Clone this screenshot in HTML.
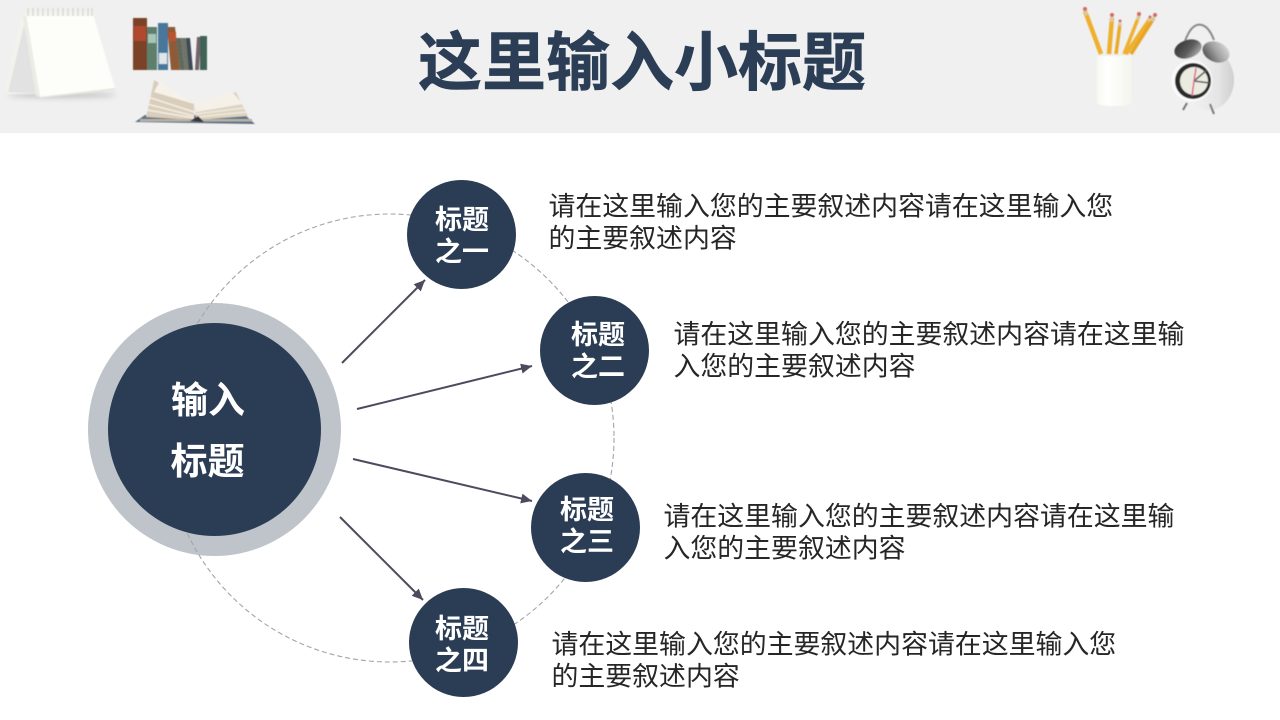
<!DOCTYPE html>
<html lang="zh-CN"><head><meta charset="utf-8"><title>这里输入小标题</title>
<style>
html,body{margin:0;padding:0;background:#fff;width:1280px;height:720px;overflow:hidden}
svg{display:block}
text{font-family:"Liberation Sans","Noto Sans CJK SC",sans-serif}
.t{font-size:26.9px;fill:#262626}
.n{font-size:27px;font-weight:700;fill:#fff;text-anchor:middle}
.c{font-size:37px;font-weight:700;fill:#fff;text-anchor:middle}
.a{stroke:#4d4a5e;stroke-width:2;fill:none}
</style></head><body>
<svg width="1280" height="720" viewBox="0 0 1280 720" xmlns="http://www.w3.org/2000/svg">
<defs>
<filter id="b" x="-10%" y="-10%" width="120%" height="120%"><feGaussianBlur stdDeviation="0.55"/></filter>
<filter id="s" x="-30%" y="-200%" width="160%" height="500%"><feGaussianBlur stdDeviation="3"/></filter>
<linearGradient id="cup" x1="0" x2="1" y1="0" y2="0"><stop offset="0" stop-color="#f8f8f1"/><stop offset=".3" stop-color="#ffffff"/><stop offset="1" stop-color="#f4f4ed"/></linearGradient>
<linearGradient id="bell1" x1="0" x2="1" y1="0" y2="1"><stop offset="0" stop-color="#2e2e2e"/><stop offset=".55" stop-color="#5c5c5c"/><stop offset="1" stop-color="#c8c8c8"/></linearGradient>
<linearGradient id="bell2" x1="0" x2="1" y1="1" y2="0"><stop offset="0" stop-color="#3a3a3a"/><stop offset=".5" stop-color="#a0a0a0"/><stop offset="1" stop-color="#e8e8e8"/></linearGradient>
<linearGradient id="body" x1="0" x2="1" y1="0" y2="0"><stop offset="0" stop-color="#f5f5f5"/><stop offset=".7" stop-color="#e4e4e4"/><stop offset="1" stop-color="#cfcfcf"/></linearGradient>
<marker id="m" markerUnits="userSpaceOnUse" markerWidth="12" markerHeight="10" refX="11" refY="5" orient="auto"><path d="M0 0L11 5L0 10z" fill="#4d4a5e"/></marker>
</defs>
<rect width="1280" height="133" fill="#f0f0f0"/>

<!-- notepad -->
<ellipse cx="62" cy="95" rx="54" ry="2.500" fill="#bdbdbd" filter="url(#s)"/>
<g filter="url(#b)">
<path d="M22 15L5 91L9 94H40L26 20z" fill="#f3f3ed"/>
<path d="M24 25L8 92L38 94z" fill="#e2e2e2"/>
<path d="M26 14H93L115 88L40 97z" fill="#fdfdf9"/>
<path d="M26 14L40 97L36 96L23 17z" fill="#ecece5"/>
<path d="M40 97L115 88V90L41 98z" fill="#e6e6dd"/>
<rect x="25" y="12" width="69" height="4" fill="#f5f5f0"/>
<path d="M28 8V16M33 8V16M38 8V16M43 8V16M48 8V16M53 8V16M58 8V16M63 8V16M68 8V16M73 8V16M78 8V16M83 8V16M88 8V16M92 8V16" stroke="#dadad5" stroke-width="1.600"/>
</g>

<!-- books upright -->
<g filter="url(#b)">
<rect x="133" y="18" width="14" height="52" fill="#7a4328"/><rect x="134" y="26" width="12" height="15" fill="#b0482f"/>
<rect x="147" y="27" width="10" height="43" fill="#5f7f6d"/><rect x="148" y="34" width="8" height="9" fill="#a6c7b8"/>
<rect x="158" y="23" width="10" height="47" fill="#46779a"/><rect x="159" y="53" width="8" height="11" fill="#dde6ea"/>
<path d="M167 27H175L180 70H171z" fill="#8f5a38"/><rect x="169" y="32" width="7" height="9" fill="#b8552e"/>
<path d="M176 38H181L185 70H180z" fill="#606b5c"/>
<path d="M181 38H186L190 70H185z" fill="#6e7468"/>
<path d="M186 38H190L193 70H189z" fill="#3d4a55"/>
<path d="M197 37H201L199 70H195z" fill="#75646a"/>
<rect x="200" y="36" width="7" height="34" fill="#3f6455"/>
</g>

<!-- open book -->
<g filter="url(#b)">
<path d="M135 122L145 115H245L255 124z" fill="#5d7189"/>
<path d="M154 80L194 104V120L146 117L150 100z" fill="#d9cebb"/>
<path d="M160 81L194 104L154 92z" fill="#f6f2ea"/>
<path d="M148 97L194 112M147 104L194 116M147 110L194 118" stroke="#f3eee3" stroke-width="1.500"/>
<path d="M195 106L236 92L248 116L196 120z" fill="#ddd3c1"/>
<path d="M195 104L232 92L243 104L196 112z" fill="#f5f1e9"/>
<path d="M196 114L244 108M196 117L246 112" stroke="#f3eee3" stroke-width="1.300"/>
<rect x="140" y="119" width="112" height="2.500" fill="#b8b2a3"/>
<path d="M190 121L198 116L204 122z" fill="#3a3530"/>
</g>

<!-- pencils -->
<g filter="url(#b)">
<path d="M1085 11L1101 54" stroke="#eeb02f" stroke-width="4.500"/>
<path d="M1112 18L1109 54" stroke="#eeb02f" stroke-width="4.500"/>
<path d="M1120 24L1116 54" stroke="#e9ab2a" stroke-width="3.500"/>
<path d="M1139 16L1124 54" stroke="#eeb02f" stroke-width="3.500"/>
<path d="M1150 19L1126 54" stroke="#eeb02f" stroke-width="4"/>
<path d="M1154 18L1131 54" stroke="#e9a428" stroke-width="3.500"/>
<path d="M1085 10L1087 15M1112 17L1111.500 22M1120 23L1119.500 26M1139 15L1137.500 20M1150 18L1148 21M1154 17L1152 21" stroke="#d9c9a0" stroke-width="3.500"/>
<g fill="#d9685f"><circle cx="1085" cy="9" r="2"/><circle cx="1112" cy="15" r="2"/><circle cx="1120" cy="21" r="1.500"/><circle cx="1139" cy="14" r="2"/><circle cx="1150" cy="17" r="1.500"/><circle cx="1155" cy="15" r="2"/></g>
<path d="M1097 56H1132V102Q1132 106 1114 106Q1097 106 1097 102z" fill="url(#cup)"/>
</g>

<!-- alarm clock -->
<g filter="url(#b)">
<path d="M1185 41Q1192 22 1202 25Q1209 27 1214 40" fill="none" stroke="#8a8a8a" stroke-width="2"/>
<ellipse cx="1209" cy="80" rx="25" ry="30" fill="url(#body)"/>
<ellipse cx="1188" cy="49" rx="14" ry="9" fill="url(#bell1)" transform="rotate(-18 1188 49)"/>
<ellipse cx="1216" cy="52" rx="14" ry="10" fill="url(#bell2)" transform="rotate(22 1216 52)"/>
<circle cx="1192" cy="81" r="20.500" fill="#fbfbfb"/>
<circle cx="1193" cy="81" r="18" fill="#2b2b2b"/>
<circle cx="1194" cy="81" r="14" fill="#ecebe2"/>
<path d="M1194 81L1207 70M1194 81L1210 83" stroke="#555" stroke-width="1.500"/>
<path d="M1194 81L1192 96M1194 81L1196 68" stroke="#d8688a" stroke-width="1.500"/>
<path d="M1187 103L1183 110M1210 104L1214 114" stroke="#777" stroke-width="2"/>
</g>

<text x="642" y="85" font-size="64" font-weight="700" fill="#2b3e55" stroke="#2b3e55" stroke-width=".6" text-anchor="middle">这里输入小标题</text>

<!-- central circle outer -->
<circle cx="214.500" cy="429.500" r="126.500" fill="#bfc4cb"/>
<!-- dashed ring -->
<circle cx="390" cy="438" r="224" fill="none" stroke="#a4a4a8" stroke-width="1.100" stroke-dasharray="5 3"/>
<circle cx="214.500" cy="429.500" r="106.500" fill="#2b3d54"/>
<text class="c" x="208" y="413">输入</text>
<text class="c" x="207.500" y="474">标题</text>

<!-- arrows -->
<path class="a" d="M342 363L425 280" marker-end="url(#m)"/>
<path class="a" d="M357 409L532 366" marker-end="url(#m)"/>
<path class="a" d="M353 459L532 501" marker-end="url(#m)"/>
<path class="a" d="M340 517L423 600" marker-end="url(#m)"/>

<!-- satellite circles -->
<circle cx="461.500" cy="234.500" r="54.500" fill="#2b3d54"/>
<text class="n" x="462" y="229">标题</text><text class="n" x="462" y="261">之一</text>
<circle cx="594.500" cy="350.500" r="54.500" fill="#2b3d54"/>
<text class="n" x="598" y="344">标题</text><text class="n" x="598" y="376">之二</text>
<circle cx="585.500" cy="527.500" r="54.500" fill="#2b3d54"/>
<text class="n" x="587" y="519">标题</text><text class="n" x="587" y="551">之三</text>
<circle cx="463.500" cy="642.500" r="54.500" fill="#2b3d54"/>
<text class="n" x="462" y="638">标题</text><text class="n" x="462" y="670">之四</text>

<!-- descriptions -->
<text class="t" x="548.500" y="215.500">请在这里输入您的主要叙述内容请在这里输入您</text>
<text class="t" x="548.500" y="247.500">的主要叙述内容</text>
<text class="t" x="673.500" y="343.500">请在这里输入您的主要叙述内容请在这里输</text>
<text class="t" x="673.500" y="375.500">入您的主要叙述内容</text>
<text class="t" x="663.500" y="525.500">请在这里输入您的主要叙述内容请在这里输</text>
<text class="t" x="663.500" y="557.500">入您的主要叙述内容</text>
<text class="t" x="551.500" y="653.500">请在这里输入您的主要叙述内容请在这里输入您</text>
<text class="t" x="551.500" y="685.500">的主要叙述内容</text>
</svg>
</body></html>
